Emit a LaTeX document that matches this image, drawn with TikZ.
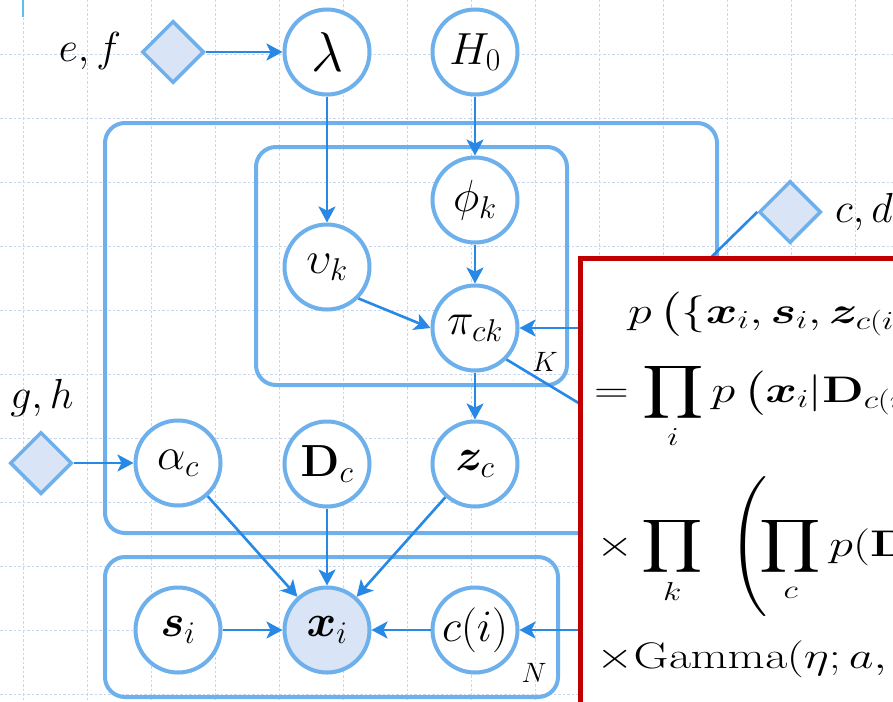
\RequirePackage{fix-cm}
\documentclass[tikz,border=0pt]{standalone}
\usepackage{amsmath}
\usepackage{bm}
\usepackage{graphicx}
\DeclareFontShape{OMX}{cmex}{m}{n}{<-> cmex10}{}
\DeclareFontShape{OMX}{cmex}{b}{n}{<-> cmex10}{}
\DeclareFontShape{OMX}{cmex}{bx}{n}{<-> cmex10}{}
\usetikzlibrary{arrows.meta,shapes.geometric,shadows}
\definecolor{plateblue}{HTML}{6EB0EB}
\definecolor{arrowblue}{HTML}{2788E5}
\definecolor{lightfill}{HTML}{D9E4F7}
\definecolor{gridcol}{HTML}{CAD5F3}
\definecolor{boxred}{HTML}{C00000}
\definecolor{markcol}{HTML}{5BBDF0}
\newcommand{\eqwide}[1]{\scalebox{1.3}[1]{#1}}
\newcommand{\tallparen}{\mathopen{\vcenter{\hbox{\scalebox{1}[1.26]{$\displaystyle\Bigg($}}}}}
\begin{document}
\begin{tikzpicture}[x=1pt,y=-1pt,
  var/.style={circle, draw=plateblue, line width=4pt, fill=white, minimum size=85pt, inner sep=0pt,
    font=\fontsize{45}{50}\selectfont,
    drop shadow={opacity=0.15, shadow xshift=0.5pt, shadow yshift=-2pt}},
  obs/.style={var, fill=lightfill},
  hyper/.style={diamond, draw=plateblue, line width=3.5pt, fill=lightfill, minimum width=62pt,
    minimum height=62pt, inner sep=0pt,
    drop shadow={opacity=0.15, shadow xshift=0.5pt, shadow yshift=-2pt}},
  plate/.style={draw=plateblue, line width=4pt, rounded corners=20pt},
  edge/.style={draw=arrowblue, line width=2.6pt, -{Stealth[length=16pt,width=17pt,inset=4pt]}},
  link/.style={draw=arrowblue, line width=2.6pt},
  gridline/.style={draw=gridcol, line width=0.8pt, dash pattern=on 2.5pt off 2pt},
  lbl/.style={font=\fontsize{42}{46}\selectfont, inner sep=0pt},
  platelbl/.style={font=\fontsize{28}{30}\selectfont, inner sep=0pt},
  eqn/.style={font=\fontsize{37}{42}\selectfont, inner sep=0pt, anchor=base west}
]
\useasboundingbox (0,0) rectangle (893,701);
\clip (0,0) rectangle (893,701);
\fill[white] (0,0) rectangle (893,701);
% grid
\foreach \i in {0,...,13} \draw[gridline] (23+64*\i,0) -- (23+64*\i,701);
\foreach \j in {0,...,11} \draw[gridline] (0,-10+64*\j) -- (893,-10+64*\j);
\draw[markcol, line width=2pt] (23,0) -- (23,17);
% plates
\draw[plate] (105,123) rectangle (717,533);
\draw[plate] (256,147) rectangle (567,385);
\draw[plate] (105,557) rectangle (558,697);
\node[platelbl] (Klbl) at (545,362) {$K$};
\node[platelbl] (Nlbl) at (534,673) {$N$};
% hyperparameters
\node[hyper] (ef) at (173,52) {};
\node[hyper] (gh) at (41,463) {};
\node[hyper] (cd) at (790,212) {};
\node[lbl, anchor=base] (eflbl) at (90,62) {$e,f$};
\node[lbl, anchor=base] (ghlbl) at (42,408) {$g,h$};
\node[lbl, anchor=base west] (cdlbl) at (835,222) {$c,d$};
% variables
\node[var, font=\fontsize{56}{60}\selectfont] (lam) at (327,52) {$\lambda$};
\node[var] (H0) at (475,52) {$H_0$};
\node[var] (phi) at (475,200) {$\phi_k$};
\node[var] (ups) at (327,267) {$\upsilon_k$};
\node[var] (pi) at (475,328) {$\pi_{ck}$};
\node[var] (alpha) at (178,463) {$\alpha_c$};
\node[var] (D) at (327,464) {$\mathbf{D}_c$};
\node[var] (z) at (475,464) {$\bm{z}_c$};
\node[var] (s) at (178,630) {$\bm{s}_i$};
\node[obs] (x) at (327,630) {$\bm{x}_i$};
\node[var] (ci) at (475,630) {$c(i)$};
% hidden ends (under the red box)
\coordinate (hA) at (690,278);
\coordinate (hB) at (620,328);
\coordinate (hC) at (620,428);
\coordinate (hD) at (620,630);
% edges
\draw[edge] (ef) -- (lam);
\draw[edge] (gh) -- (alpha);
\draw[edge] (lam) -- (ups);
\draw[edge] (H0) -- (phi);
\draw[edge] (phi) -- (pi);
\draw[edge] (ups.-45) -- (pi.west);
\draw[edge] (pi) -- (z);
\draw[edge] (alpha) -- (x);
\draw[edge] (D) -- (x);
\draw[edge] (z) -- (x);
\draw[edge] (s) -- (x);
\draw[edge] (ci) -- (x);
\draw[link] (cd.west) -- (hA);
\draw[edge] (hB) -- (pi);
\draw[link] (pi.-45) -- (hC);
\draw[edge] (hD) -- (ci);
% red formula box
\draw[draw=boxred, line width=5pt, fill=white] (580.5,258) rectangle (1000,800);
\node[eqn] (eq1) at (628,323) {\eqwide{$\displaystyle p\left(\{\bm{x}_i,\bm{s}_i,\bm{z}_{c(i)}\right.$}};
\node[eqn] (eq2) at (594,402) {\eqwide{$\displaystyle =\prod_i p\left(\bm{x}_i|\mathbf{D}_{c(i)}\right.$}};
\node[eqn] (eq3) at (596,556) {\eqwide{$\displaystyle \times\prod_k\;\;\tallparen\!\prod_c p(\mathbf{D}_c$}};
\node[eqn] (eq4) at (596,668) {\eqwide{$\times\mathrm{Gamma}(\eta;a,$}};
\end{tikzpicture}
\end{document}
